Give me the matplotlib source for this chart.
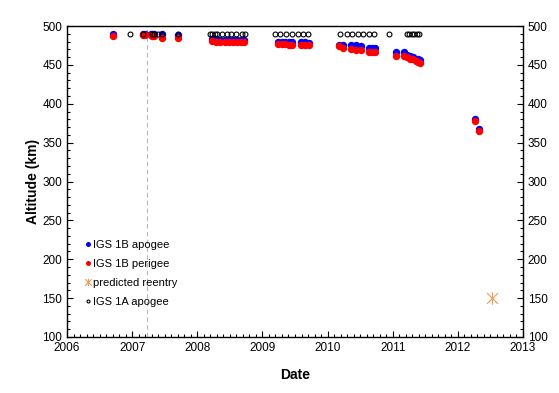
import matplotlib
matplotlib.use("Agg")
import matplotlib.pyplot as plt
from matplotlib.ticker import MultipleLocator
from matplotlib.path import Path

plt.rcParams['font.family'] = ['Liberation Sans', 'DejaVu Sans']

# IGS 1B apogee / perigee
b_dates = [2006.70, 2007.16, 2007.19, 2007.29, 2007.31, 2007.34, 2007.46, 2007.71,
           2008.22, 2008.28, 2008.35, 2008.42, 2008.48, 2008.55, 2008.61, 2008.67, 2008.72,
           2009.24, 2009.30, 2009.35, 2009.41, 2009.45, 2009.59, 2009.66, 2009.72,
           2010.17, 2010.24, 2010.36, 2010.44, 2010.51, 2010.64, 2010.68, 2010.73,
           2011.05, 2011.17, 2011.22, 2011.27, 2011.31, 2011.36, 2011.39, 2011.42,
           2012.27, 2012.33]
b_apogee = [490, 490, 490, 490, 490, 490, 490, 489,
            483, 483, 482, 482, 482, 482, 482, 482, 482,
            480, 480, 480, 479, 479, 479, 479, 478,
            476, 475, 475, 475, 474, 472, 472, 472,
            466, 466, 463, 461, 460, 458, 457, 456,
            381, 367]
b_perigee = [487, 488, 488, 488, 487, 487, 485, 484,
             481, 480, 480, 480, 480, 480, 480, 480, 480,
             477, 477, 477, 476, 476, 476, 476, 475,
             474, 472, 470, 469, 469, 467, 467, 467,
             462, 462, 460, 458, 457, 455, 454, 453,
             378, 365]

# predicted reentry
reentry_date = [2012.53]
reentry_alt = [150]

# IGS 1A apogee
a_dates = [2006.96, 2007.17, 2007.30, 2007.34, 2007.39, 2007.46, 2007.71,
           2008.19, 2008.23, 2008.27, 2008.31, 2008.38, 2008.45, 2008.51, 2008.60, 2008.68, 2008.73,
           2009.20, 2009.27, 2009.36, 2009.45, 2009.54, 2009.63, 2009.70,
           2010.19, 2010.30, 2010.37, 2010.47, 2010.55, 2010.63, 2010.71,
           2010.94, 2011.22, 2011.25, 2011.29, 2011.33, 2011.37, 2011.41]
a_apogee = [490] * len(a_dates)

event_date = 2007.23

# star marker: an X with a vertical stroke
star = Path([(-1, -1), (1, 1), (-1, 1), (1, -1), (0, -1.15), (0, 1.15)],
            [Path.MOVETO, Path.LINETO, Path.MOVETO, Path.LINETO, Path.MOVETO, Path.LINETO])

fig = plt.figure(figsize=(5.59, 3.93), dpi=100)
ax = fig.add_axes([0.1199, 0.1425, 0.8157, 0.7913])

ax.axvline(event_date, color='#b8b8b8', lw=0.8, ls=(0, (4, 3)), zorder=1)

ax.plot(b_dates, b_apogee, 'o', color='#0000ff', ms=4.3, mec='#0000ff', label='IGS 1B apogee', zorder=3)
ax.plot(b_dates, b_perigee, 'o', color='#ff0000', ms=4.3, mec='#ff0000', label='IGS 1B perigee', zorder=4)
ax.plot(reentry_date, reentry_alt, linestyle='none', marker=star, color='#eb9b5a', ms=9,
        mew=0.8, mfc='none', label='predicted reentry', zorder=3)
ax.plot(a_dates, a_apogee, 'o', mfc='none', mec='black', ms=3.5, mew=0.8, label='IGS 1A apogee', zorder=5)

ax.set_xlim(2006, 2013)
ax.set_ylim(100, 500)
ax.xaxis.set_major_locator(MultipleLocator(1))
ax.xaxis.set_minor_locator(MultipleLocator(0.1))
ax.yaxis.set_major_locator(MultipleLocator(50))
ax.yaxis.set_minor_locator(MultipleLocator(10))
ax.tick_params(which='both', direction='in', top=False, right=True, labelright=True,
               labelsize=8.5, width=0.8)
ax.tick_params(which='major', length=4)
ax.tick_params(which='minor', length=2.5)
ax.tick_params(axis='x', which='both', top=False)
for s in ax.spines.values():
    s.set_linewidth(1.0)

ax.set_xlabel('Date', fontsize=10, fontweight='bold', labelpad=10)
ax.set_ylabel('Altitude (km)', fontsize=10, fontweight='bold', labelpad=2)

leg = ax.legend(loc='upper left', bbox_to_anchor=(0.028, 0.33), frameon=False, fontsize=8,
                handlelength=0.5, handletextpad=0.2, labelspacing=0.82, borderpad=0,
                markerscale=0.6)

fig.savefig('out.png', dpi=100)
